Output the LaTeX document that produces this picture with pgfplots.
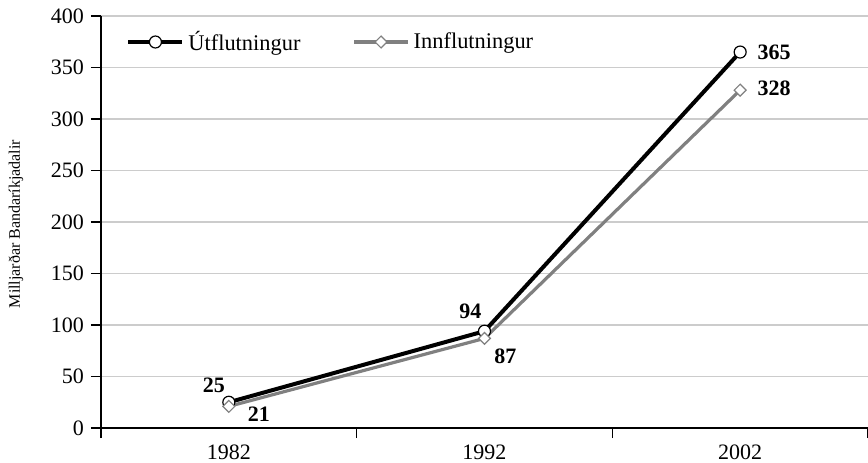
\documentclass[border=0pt]{standalone}
\usepackage{pgfplots}
\pgfplotsset{compat=1.18}
\usepackage{fontspec}
\setmainfont{Liberation Serif}
\definecolor{imp}{HTML}{808080}
\newcommand{\tl}{\fontsize{11}{13}\selectfont}
\begin{document}
\begin{tikzpicture}
\useasboundingbox (-50.5pt,-17pt) rectangle (383.5pt,214pt);
\begin{axis}[
 at={(0,0)}, anchor=south west,
 scale only axis, width=383.5pt, height=206pt,
 xmin=-0.5, xmax=2.5, ymin=0, ymax=400,
 axis x line*=bottom, axis y line*=left,
 axis line style={line width=0.6pt, -},
 xtick={-0.5,0.5,1.5,2.5}, xticklabels={1982,1992,2002}, x tick label as interval,
 ytick={0,50,...,400},
 tick align=outside, major tick length=5pt,
 tick style={black, line width=0.6pt},
 ymajorgrids, grid style={black!20, line width=0.6pt},
 /pgf/number format/assume math mode=true,
 tick label style={font=\tl},
 clip=false,
 legend columns=2,
 legend style={draw=none, fill=none, inner sep=0pt, at={(axis cs:-0.5,400)}, anchor=west, xshift=12.5pt, yshift=-13pt, font=\fontsize{11.2}{13}\selectfont},
 legend cell align=left,
 /tikz/every even column/.append style={column sep=24pt},
 legend image code/.code={\draw[mark repeat=2,mark phase=2] plot coordinates {(0cm,0cm)(0.475cm,0cm)(0.95cm,0cm)};},
]
\addplot[black, line width=2pt, mark=*, mark size=3pt, mark options={fill=white, draw=black, line width=0.6pt, solid}] coordinates {(0,25) (1,94) (2,365)};
\addlegendentry{Útflutningur}
\addplot[imp, line width=1.6pt, mark=square*, mark size=2.1pt, mark options={rotate=45, fill=white, draw=imp, line width=0.6pt, solid}] coordinates {(0,21) (1,87) (2,328)};
\addlegendentry{Innflutningur}
\node[font=\tl\bfseries] at ([xshift=-7.5pt,yshift=8.5pt]axis cs:0,25) {25};
\node[font=\tl\bfseries] at ([xshift=15pt,yshift=-4pt]axis cs:0,21) {21};
\node[font=\tl\bfseries] at ([xshift=-7pt,yshift=10pt]axis cs:1,94) {94};
\node[font=\tl\bfseries] at ([xshift=10.5pt,yshift=-9pt]axis cs:1,87) {87};
\node[font=\tl\bfseries] at ([xshift=17pt,yshift=0pt]axis cs:2,365) {365};
\node[font=\tl\bfseries] at ([xshift=17pt,yshift=1pt]axis cs:2,328) {328};
\node[rotate=90, font=\footnotesize] at ([xshift=-42.5pt,yshift=-1pt]rel axis cs:0,0.5) {Milljarðar Bandaríkjadalir};
\end{axis}
\end{tikzpicture}
\end{document}
